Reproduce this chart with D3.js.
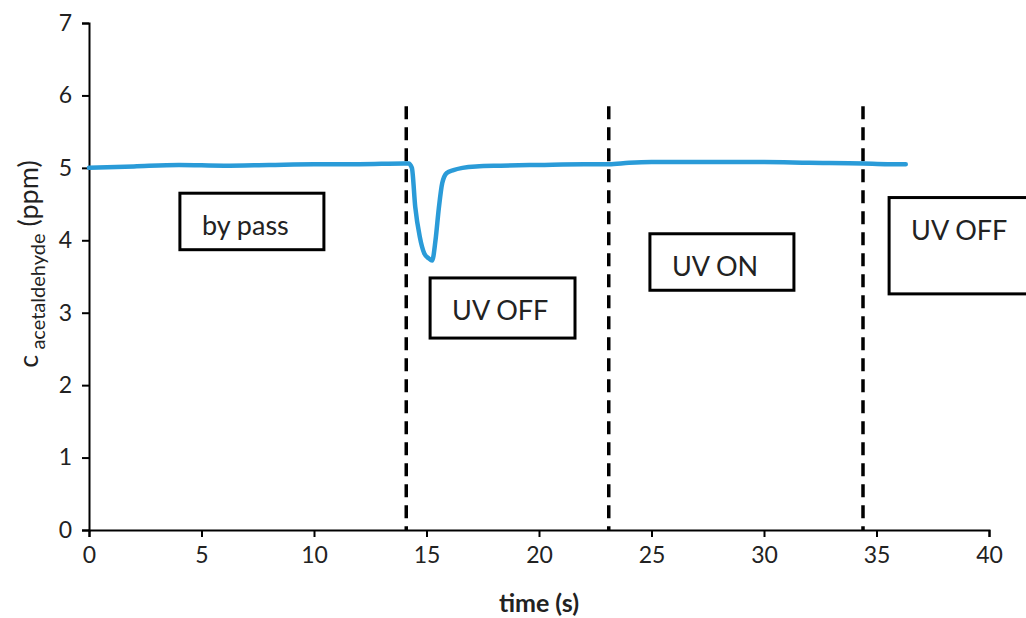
<!DOCTYPE html>
<html lang="en">
  <head>
    <meta charset="UTF-8" />
    <title>Acetaldehyde concentration</title>
    <script src="https://d3js.org/d3.v7.min.js"></script>
    <style>
      body { margin: 0; background: #fff; }
      text { font-family: Lato, "Open Sans", sans-serif; fill: #222; }
    </style>
  </head>
  <body>
    <svg width="1026" height="618" id="chart"></svg>

    <script>
      // measured series (time in s, concentration in ppm)
      const time = [0, 2, 4, 6, 8, 10, 12, 14, 14.2, 14.35, 14.5, 14.7, 14.9, 15.1, 15.25, 15.4, 15.55, 15.7, 15.9, 16.2, 16.6, 17.2, 18.3, 20, 22, 23.1, 24, 25, 27, 30, 32, 34.4, 35.5, 36.3];
      const conc = [5.0, 5.02, 5.04, 5.03, 5.04, 5.05, 5.05, 5.06, 5.06, 5.0, 4.46, 4.05, 3.82, 3.75, 3.72, 4.0, 4.45, 4.79, 4.93, 4.97, 5.0, 5.02, 5.03, 5.04, 5.05, 5.05, 5.07, 5.08, 5.08, 5.08, 5.07, 5.06, 5.05, 5.05];

      // phase switch times (dashed markers)
      const switches = [14.1, 23.1, 34.4];

      // annotation boxes
      const labels = ["by pass", "UV OFF", "UV ON", "UV OFF"];
      const boxX0 = [4.04, 15.16, 24.93, 35.56];
      const boxX1 = [10.44, 21.6, 31.33, 42];
      const boxTop = [4.65, 3.48, 4.09, 4.59];
      const boxBottom = [3.87, 2.65, 3.31, 3.26];

      const xTicks = [0, 5, 10, 15, 20, 25, 30, 35, 40];
      const yTicks = [0, 1, 2, 3, 4, 5, 6, 7];

      const svg = d3.select("#chart");
      const x = d3.scaleLinear().domain([0, 40]).range([89, 989]);
      const y = d3.scaleLinear().domain([0, 7]).range([530, 23]);

      // axes
      const xAxis = svg.append("g")
        .attr("transform", "translate(0," + y(0) + ")")
        .call(d3.axisBottom(x).tickValues(xTicks).tickFormat(d3.format("d")).tickSize(7).tickPadding(10));
      const yAxis = svg.append("g")
        .attr("transform", "translate(" + x(0) + ",0)")
        .call(d3.axisLeft(y).tickValues(yTicks).tickFormat(d3.format("d")).tickSize(7).tickPadding(10));
      [xAxis, yAxis].forEach((a) => {
        a.select(".domain").attr("stroke", "#000").attr("stroke-width", 2);
        a.selectAll(".tick line").attr("stroke", "#000").attr("stroke-width", 2);
        a.selectAll(".tick text").attr("font-size", 23).attr("fill", "#222")
          .attr("font-family", "Lato, 'Open Sans', sans-serif");
      });

      // dashed switch lines
      svg.selectAll(".switch")
        .data(switches)
        .join("line")
        .attr("x1", (d) => x(d))
        .attr("x2", (d) => x(d))
        .attr("y1", y(5.85))
        .attr("y2", y(0))
        .attr("stroke", "#000")
        .attr("stroke-width", 3.5)
        .attr("stroke-dasharray", "13,8");

      // concentration trace
      const pts = time.map((t, i) => [t, conc[i]]);
      const line = d3.line()
        .x((d) => x(d[0]))
        .y((d) => y(d[1]))
        .curve(d3.curveMonotoneX);
      svg.append("path")
        .datum(pts)
        .attr("d", line)
        .attr("fill", "none")
        .attr("stroke", "#2a9bd8")
        .attr("stroke-width", 4.5)
        .attr("stroke-linecap", "round");

      // annotation boxes
      labels.forEach((lab, i) => {
        const g = svg.append("g");
        g.append("rect")
          .attr("x", x(boxX0[i]))
          .attr("y", y(boxTop[i]))
          .attr("width", x(boxX1[i]) - x(boxX0[i]))
          .attr("height", y(boxBottom[i]) - y(boxTop[i]))
          .attr("fill", "#fff")
          .attr("stroke", "#000")
          .attr("stroke-width", 3);
        g.append("text")
          .attr("x", x(boxX0[i]) + 22)
          .attr("y", y(boxTop[i]) + 42)
          .attr("font-size", 27)
          .text(lab);
      });

      // axis titles
      svg.append("text")
        .attr("x", 539)
        .attr("y", 612)
        .attr("text-anchor", "middle")
        .attr("font-size", 25)
        .attr("font-weight", "bold")
        .text("time (s)");

      const yt = svg.append("text")
        .attr("transform", "translate(38,264) rotate(-90)")
        .attr("text-anchor", "middle")
        .attr("font-size", 27);
      yt.append("tspan").text("c");
      yt.append("tspan").attr("font-size", 20).attr("dy", 7).text(" acetaldehyde");
      yt.append("tspan").attr("dy", -7).text(" (ppm)");
    </script>
  </body>
</html>
